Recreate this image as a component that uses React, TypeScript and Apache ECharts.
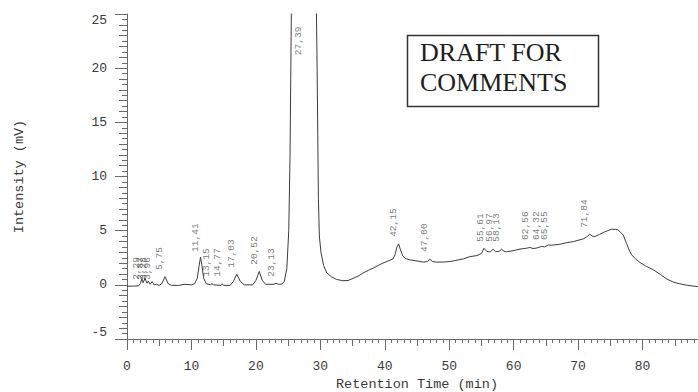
import React, { useEffect, useRef } from "react";
import * as echarts from "echarts";

// Chromatogram trace: [retention time (min), intensity (mV)]
const trace: [number, number][] = [
  [0, -0.12], [1.0, -0.12], [1.8, -0.1], [2.1, 0.15], [2.3, 0.55], [2.5, 0.2], [2.8, 0.6],
  [3.1, 0.15], [3.3, 0.35], [3.6, 0.05], [3.9, 0.3], [4.2, 0.0], [4.6, 0.05], [5.0, -0.05],
  [5.4, 0.1], [5.9, 0.75], [6.4, 0.1], [6.9, -0.05], [8.0, -0.05], [9.0, 0.05], [10.0, 0.0],
  [10.5, 0.1], [10.9, 0.6], [11.2, 1.8], [11.41, 2.55], [11.6, 1.9], [11.9, 0.6], [12.3, 0.1],
  [13.0, 0.0], [13.15, 0.12], [13.4, 0.0], [14.6, -0.05], [14.77, 0.1], [15.0, -0.05],
  [16.0, -0.05], [16.5, 0.3], [17.03, 0.98], [17.6, 0.3], [18.2, 0.0], [19.5, 0.0],
  [20.0, 0.4], [20.52, 1.23], [21.0, 0.4], [21.5, 0.05], [22.8, 0.05], [23.13, 0.15],
  [23.5, 0.05], [24.0, 0.06], [24.4, 0.3], [24.8, 1.5], [25.1, 5], [25.3, 12], [25.5, 25],
  [26.0, 45], [27.39, 60], [28.8, 45], [29.4, 25], [29.5, 20], [29.7, 8], [29.85, 4.5],
  [30.1, 3.0], [30.5, 1.8], [31.0, 1.1], [31.7, 0.75], [32.5, 0.5], [33.5, 0.38], [34.3, 0.4],
  [35.1, 0.6], [36.0, 0.85], [36.6, 1.08], [37.5, 1.35], [38.2, 1.54], [39.0, 1.8],
  [39.7, 2.0], [40.5, 2.2], [41.3, 2.4], [41.6, 2.8], [41.9, 3.5], [42.15, 3.78], [42.4, 3.3],
  [42.8, 2.65], [43.3, 2.4], [43.9, 2.3], [45.0, 2.2], [46.0, 2.1], [46.6, 2.15], [47.0, 2.37],
  [47.4, 2.15], [48.0, 2.1], [49.0, 2.1], [50.1, 2.15], [51.0, 2.25], [52.2, 2.4], [53.2, 2.6],
  [54.3, 2.7], [55.0, 2.9], [55.4, 3.38], [55.8, 3.1], [56.1, 3.05], [56.4, 3.05], [56.8, 3.3],
  [57.2, 3.05], [57.8, 3.1], [58.1, 3.3], [58.5, 3.1], [58.9, 3.05], [59.9, 3.15], [61.0, 3.3],
  [62.0, 3.38], [62.56, 3.45], [63.0, 3.35], [63.6, 3.4], [64.32, 3.55], [64.8, 3.5],
  [65.4, 3.69], [65.8, 3.65], [67.2, 3.75], [68.3, 3.9], [69.3, 4.0], [70.8, 4.24],
  [71.4, 4.45], [71.8, 4.68], [72.2, 4.5], [72.6, 4.46], [73.3, 4.65], [73.9, 4.83],
  [74.6, 5.0], [75.2, 5.13], [75.8, 5.12], [76.2, 5.07], [76.6, 4.85], [77.0, 4.6],
  [77.5, 3.84], [78.0, 3.1], [78.3, 2.77], [78.9, 2.4], [79.6, 2.06], [80.6, 1.7],
  [81.7, 1.38], [82.8, 0.95], [83.8, 0.52], [84.8, 0.25], [85.8, 0.09], [87.0, -0.05],
  [88.4, -0.15], [90, -0.2],
];

// Peak retention times (labels) and the intensity at which each label starts
const peakTimes = [2.29, 2.87, 3.28, 3.96, 5.75, 11.41, 13.15, 14.77, 17.03, 20.52, 23.13,
  27.39, 42.15, 47.0, 55.61, 56.97, 58.13, 62.56, 64.32, 65.55, 71.84];
const peakLabelLevels = [0.46, 0.46, 0.46, 0.46, 1.38, 3.04, 0.74, 0.74, 1.57, 1.85, 0.74,
  21.2, 4.43, 3.04, 3.97, 3.97, 3.97, 4.15, 4.15, 4.15, 5.26];

const xTicks = [0, 10, 20, 30, 40, 50, 60, 70, 80];
const yTicks = [-5, 0, 5, 10, 15, 20, 25];

const MONO = "'Liberation Mono', 'DejaVu Sans Mono', monospace";
const AXIS_COLOR = "#6a6a6a";
const TEXT_COLOR = "#3a3a3a";

export default function App() {
  const ref = useRef<HTMLDivElement>(null);
  useEffect(() => {
    if (!ref.current) return;
    const chart = echarts.init(ref.current, undefined, { renderer: "svg" });
    const peakData = peakTimes.map((t, i) => [t, peakLabelLevels[i]]);
    chart.setOption({
      animation: false,
      backgroundColor: "#ffffff",
      textStyle: { fontFamily: MONO },
      grid: {
        left: 127,
        top: 14,
        width: 580,
        height: 325,
        containLabel: false,
        outerBoundsMode: "none",
      },
      xAxis: [
        {
          type: "value",
          min: 0,
          max: 90,
          interval: 10,
          position: "bottom",
          axisLine: { show: true, onZero: false, lineStyle: { color: AXIS_COLOR, width: 1 } },
          axisTick: { show: true, length: 11, lineStyle: { color: AXIS_COLOR } },
          minorTick: { show: true, splitNumber: 10, length: 4, lineStyle: { color: AXIS_COLOR } },
          splitLine: { show: false },
          minorSplitLine: { show: false },
          axisLabel: {
            margin: 21,
            fontFamily: MONO,
            fontSize: 13,
            color: TEXT_COLOR,
            formatter: (v: number) => (xTicks.includes(v) ? String(v) : ""),
          },
          name: "Retention Time (min)",
          nameLocation: "middle",
          nameGap: 37,
          nameTextStyle: { fontFamily: MONO, fontSize: 13.5, color: TEXT_COLOR, lineHeight: 14 },
        },
        {
          type: "value",
          min: 0,
          max: 90,
          interval: 5,
          position: "bottom",
          offset: 0,
          axisLine: { show: false, onZero: false },
          axisTick: { show: true, length: 7, lineStyle: { color: AXIS_COLOR } },
          axisLabel: { show: false },
          splitLine: { show: false },
        },
      ],
      yAxis: [
        {
          type: "value",
          min: -5,
          max: 25,
          interval: 5,
          position: "left",
          axisLine: { show: true, onZero: false, lineStyle: { color: AXIS_COLOR, width: 1 } },
          axisTick: { show: true, length: 12, lineStyle: { color: AXIS_COLOR } },
          minorTick: { show: true, splitNumber: 10, length: 5, lineStyle: { color: AXIS_COLOR } },
          splitLine: { show: false },
          minorSplitLine: { show: false },
          axisLabel: {
            margin: 20,
            fontFamily: MONO,
            fontSize: 13,
            color: TEXT_COLOR,
            verticalAlignMinLabel: "bottom",
            verticalAlignMaxLabel: "top",
            formatter: (v: number) => (yTicks.includes(v) ? String(v) : ""),
          },
          name: "Intensity (mV)",
          nameLocation: "middle",
          nameGap: 101,
          nameTextStyle: { fontFamily: MONO, fontSize: 13.5, color: TEXT_COLOR },
        },
        {
          type: "value",
          min: -5,
          max: 25,
          interval: 1,
          position: "left",
          offset: 0,
          axisLine: { show: false, onZero: false },
          axisTick: { show: true, length: 8, lineStyle: { color: AXIS_COLOR } },
          axisLabel: { show: false },
          splitLine: { show: false },
        },
      ],
      series: [
        {
          type: "line",
          data: trace,
          xAxisIndex: 0,
          yAxisIndex: 0,
          showSymbol: false,
          symbol: "none",
          clip: true,
          silent: true,
          lineStyle: { color: "#3c3c3c", width: 1 },
        },
        {
          type: "scatter",
          data: peakData,
          xAxisIndex: 0,
          yAxisIndex: 0,
          symbolSize: 0,
          silent: true,
          clip: false,
          label: {
            show: true,
            position: "top",
            distance: 0,
            rotate: 90,
            align: "left",
            verticalAlign: "bottom",
            fontFamily: MONO,
            fontSize: 9.5,
            color: "#555555",
            formatter: (p: any) => Number(p.value[0]).toFixed(2).replace(".", ","),
          },
        },
      ],
      graphic: [
        {
          type: "rect",
          shape: { x: 407.5, y: 35.5, width: 191, height: 71 },
          style: { fill: "#ffffff", stroke: "#333333", lineWidth: 1.5 },
          z: 10,
        },
        {
          type: "text",
          x: 420,
          y: 52.5,
          style: {
            text: "DRAFT FOR",
            font: "26px 'Liberation Serif', 'Times New Roman', serif",
            fill: "#1e1e1e",
            align: "left",
            verticalAlign: "middle",
          },
          z: 11,
        },
        {
          type: "text",
          x: 420,
          y: 82,
          style: {
            text: "COMMENTS",
            font: "26px 'Liberation Serif', 'Times New Roman', serif",
            fill: "#1e1e1e",
            align: "left",
            verticalAlign: "middle",
          },
          z: 11,
        },
      ],
    });
    return () => chart.dispose();
  }, []);
  return (
    <div
      ref={ref}
      style={{ position: "absolute", left: 0, top: 0, width: 698, height: 392 }}
    />
  );
}
